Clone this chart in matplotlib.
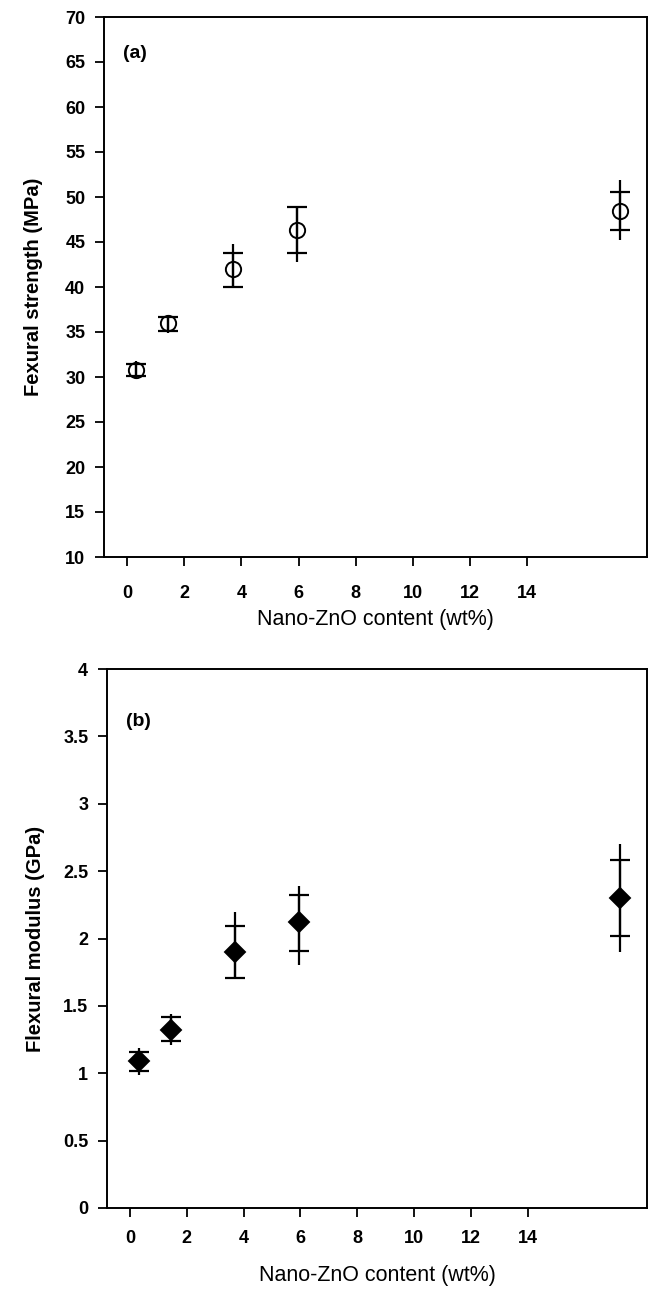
import numpy as np
import matplotlib
matplotlib.use('Agg')
import matplotlib.pyplot as plt

plt.rcParams['font.family'] = ['Liberation Sans', 'DejaVu Sans']

# nano-ZnO content (wt%)
content = np.array([0, 1, 3, 5, 15])

# (a) flexural strength, MPa: mean, caps (SD) and full range
a_mean = np.array([30.8, 36.0, 42.0, 46.3, 48.4])
a_sd_lo = np.array([30.1, 35.1, 40.0, 43.8, 46.3])
a_sd_hi = np.array([31.5, 36.7, 43.8, 48.9, 50.6])
a_min = np.array([29.9, 34.9, 40.0, 42.8, 45.2])
a_max = np.array([31.8, 36.9, 44.8, 48.9, 51.9])

# (b) flexural modulus, GPa
b_mean = np.array([1.09, 1.32, 1.90, 2.12, 2.30])
b_sd_lo = np.array([1.02, 1.24, 1.71, 1.91, 2.02])
b_sd_hi = np.array([1.16, 1.415, 2.09, 2.32, 2.58])
b_min = np.array([0.99, 1.21, 1.71, 1.80, 1.90])
b_max = np.array([1.19, 1.44, 2.20, 2.39, 2.70])

xtick_labels = [0, 2, 4, 6, 8, 10, 12, 14]
# the printed x tick labels in the original are not on the same scale as the points
xtick_pos = -0.28 + np.array(xtick_labels) * 0.886

fig = plt.figure(figsize=(6.5, 12.92), dpi=100)
ax1 = fig.add_axes([104 / 650, 1 - 557 / 1292, 543 / 650, 540 / 1292])
ax2 = fig.add_axes([107 / 650, 1 - 1208 / 1292, 540 / 650, 539 / 1292])


def draw(ax, mean, sd_lo, sd_hi, vmin, vmax, marker, face, ms, xpad, lpad):
    ax.errorbar(content, mean, yerr=[mean - vmin, vmax - mean], fmt='none',
                ecolor='black', elinewidth=1.6, capsize=0)
    ax.errorbar(content, mean, yerr=[mean - sd_lo, sd_hi - mean], fmt='none',
                ecolor='black', elinewidth=1.6, capsize=7, capthick=1.6)
    ax.plot(content, mean, linestyle='none', marker=marker, ms=ms,
            mfc=face, mec='black', mew=1.4, zorder=5)
    ax.set_xlim(-1.0, 15.85)
    ax.set_xticks(xtick_pos)
    ax.set_xticklabels([str(t) for t in xtick_labels])
    ax.tick_params(direction='out', length=6.5, width=1.3, labelsize=13)
    ax.tick_params(axis='y', pad=7)
    ax.tick_params(axis='x', pad=xpad)
    for s in ax.spines.values():
        s.set_linewidth(1.4)
    ax.set_xlabel('Nano-ZnO content (wt%)', fontsize=15.5, labelpad=lpad)


draw(ax1, a_mean, a_sd_lo, a_sd_hi, a_min, a_max, 'o', 'none', 11, 14, 5)
ax1.set_ylim(10, 70)
ax1.set_yticks(np.arange(10, 71, 5))
ax1.set_ylabel('Fexural strength (MPa)', fontsize=14.5, fontweight='bold', labelpad=16)
ax1.text(0.035, 0.925, '(a)', transform=ax1.transAxes, fontsize=14, fontweight='bold')

draw(ax2, b_mean, b_sd_lo, b_sd_hi, b_min, b_max, 'D', 'black', 10.5, 9, 13)
ax2.set_ylim(0, 4)
yt = np.arange(0, 4.01, 0.5)
ax2.set_yticks(yt)
ax2.set_yticklabels(['%g' % v for v in yt])
ax2.set_ylabel('Flexural modulus (GPa)', fontsize=14.5, fontweight='bold', labelpad=13)
ax2.text(0.035, 0.895, '(b)', transform=ax2.transAxes, fontsize=14, fontweight='bold')

for ax in (ax1, ax2):
    for lab in ax.get_xticklabels() + ax.get_yticklabels():
        lab.set_fontweight('bold')

fig.savefig('out.png', dpi=100)
